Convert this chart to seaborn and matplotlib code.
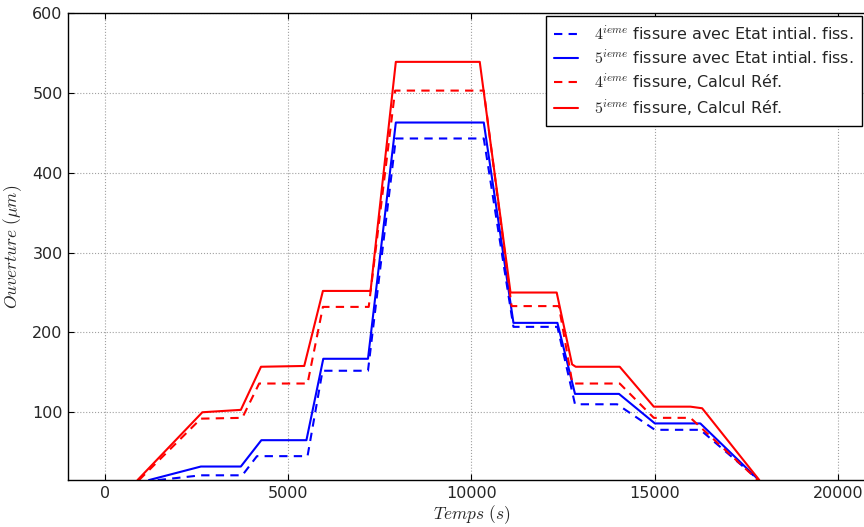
"""
Ouverture des fissures 4 et 5 : etat initial vs calcul de reference.
"""
import matplotlib
matplotlib.use("Agg")
import matplotlib.pyplot as plt
import numpy as np
import pandas as pd
import seaborn as sns

# points (temps en s, ouverture en micrometres)
t_4_init = [1440, 2620, 3750, 4150, 5530, 5940, 7180, 7940, 10340, 11150, 12350, 12830, 13980, 15010, 16250, 17850]
v_4_init = [15, 21, 21, 45, 45, 152, 152, 443, 443, 207, 207, 110, 110, 78, 78, 15]

t_5_init = [1200, 2620, 3710, 4270, 5500, 5960, 7180, 7940, 10340, 11150, 12350, 12830, 14030, 15010, 16250, 17850]
v_5_init = [15, 32, 32, 65, 65, 167, 167, 463, 463, 212, 212, 123, 123, 86, 86, 15]

t_4_ref = [930, 2620, 3750, 4210, 5530, 5950, 7200, 7920, 10340, 11100, 12390, 12760, 14050, 14980, 15980, 17820]
v_4_ref = [15, 92, 93, 136, 136, 232, 232, 503, 503, 233, 233, 136, 136, 93, 93, 15]

t_5_ref = [890, 2660, 3710, 4260, 5440, 5950, 7250, 7940, 10230, 11070, 12330, 12750, 12850, 14050, 14980, 15980, 16300, 17860]
v_5_ref = [15, 100, 103, 157, 158, 252, 252, 539, 539, 250, 250, 160, 157, 157, 107, 107, 105, 15]

labels = [
    r"$4^{ieme}$ fissure avec Etat intial. fiss.",
    r"$5^{ieme}$ fissure avec Etat intial. fiss.",
    r"$4^{ieme}$ fissure, Calcul Réf.",
    r"$5^{ieme}$ fissure, Calcul Réf.",
]

rows = []
for lab, tt, vv in zip(labels, [t_4_init, t_5_init, t_4_ref, t_5_ref],
                       [v_4_init, v_5_init, v_4_ref, v_5_ref]):
    for a, b in zip(tt, vv):
        rows.append([lab, a, b])
df = pd.DataFrame(rows, columns=["courbe", "temps", "ouverture"])

sns.set_style("whitegrid", {
    "axes.edgecolor": "black",
    "grid.color": "#a0a0a0",
    "grid.linestyle": ":",
    "xtick.direction": "in",
    "ytick.direction": "in",
})
plt.rcParams["font.family"] = ["DejaVu Sans"]
plt.rcParams["mathtext.fontset"] = "cm"

palette = dict(zip(labels, ["#0000ff", "#0000ff", "#ff0000", "#ff0000"]))
dashes = dict(zip(labels, [(4, 3), "", (4, 3), ""]))

fig = plt.figure(figsize=(8.64, 5.27), dpi=100)
ax = fig.add_axes([0.079, 0.089, 0.933, 0.886])

sns.lineplot(data=df, x="temps", y="ouverture", hue="courbe", style="courbe",
             hue_order=labels, style_order=labels, palette=palette, dashes=dashes,
             estimator=None, sort=False, linewidth=1.5, ax=ax)

ax.set_xlim(-1000, 21000)
ax.set_ylim(15, 600)
ax.set_xticks([0, 5000, 10000, 15000, 20000])
ax.set_yticks([100, 200, 300, 400, 500, 600])
ax.tick_params(axis="both", labelsize=11.5, length=4, width=0.8, color="black",
               top=True, right=True, bottom=True, left=True, pad=4)
for s in ax.spines.values():
    s.set_linewidth(1.0)
ax.grid(True, linewidth=0.8)

ax.set_xlabel(r"$Temps\ (s)$", fontsize=12.5, labelpad=2)
ax.set_ylabel(r"$Ouverture\ (\mu m)$", fontsize=12.5, labelpad=6)

leg = ax.legend(loc="upper right", bbox_to_anchor=(0.9977, 0.97),
                bbox_transform=fig.transFigure, borderaxespad=0,
                fontsize=11.5, frameon=True, fancybox=False, framealpha=1,
                edgecolor="black", handlelength=1.5, handletextpad=1.0,
                borderpad=0.5, labelspacing=0.35)
leg.get_frame().set_linewidth(1.0)

fig.savefig("out.png", dpi=100)
